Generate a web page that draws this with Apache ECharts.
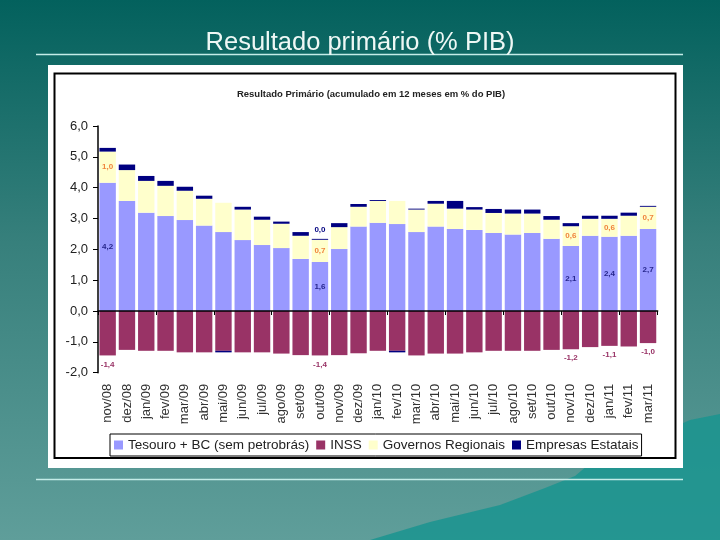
<!DOCTYPE html>
<html><head><meta charset="utf-8">
<script src="https://cdn.jsdelivr.net/npm/echarts@6/dist/echarts.min.js"></script>
<style>html,body{margin:0;padding:0;background:#0e6a66}#c{width:720px;height:540px}</style>
</head><body><div id="c"></div>
<script>
const categories = ['nov/08','dez/08','jan/09','fev/09','mar/09','abr/09','mai/09','jun/09','jul/09','ago/09','set/09','out/09','nov/09','dez/09','jan/10','fev/10','mar/10','abr/10','mai/10','jun/10','jul/10','ago/10','set/10','out/10','nov/10','dez/10','jan/11','fev/11','mar/11'];
const tesouro = [4.16,3.57,3.19,3.08,2.95,2.77,2.56,2.30,2.14,2.04,1.69,1.59,2.01,2.74,2.86,2.82,2.56,2.74,2.66,2.63,2.53,2.48,2.53,2.34,2.11,2.44,2.41,2.44,2.66];
const inss = [-1.44,-1.26,-1.29,-1.29,-1.34,-1.34,-1.29,-1.34,-1.34,-1.38,-1.43,-1.44,-1.43,-1.37,-1.29,-1.29,-1.44,-1.38,-1.38,-1.34,-1.29,-1.29,-1.29,-1.26,-1.24,-1.17,-1.13,-1.15,-1.04];
const governos = [1.01,1.00,1.03,0.98,0.95,0.87,0.95,0.99,0.82,0.79,0.75,0.72,0.71,0.64,0.71,0.75,0.73,0.74,0.66,0.66,0.65,0.68,0.63,0.62,0.64,0.55,0.58,0.65,0.72];
const estatais = [0.12,0.18,0.16,0.16,0.13,0.10,-0.05,0.09,0.10,0.07,0.12,0.03,0.13,0.09,0.03,-0.05,0.03,0.09,0.25,0.08,0.13,0.13,0.13,0.12,0.10,0.10,0.10,0.10,0.03];
const yTicks = [-2,-1,0,1,2,3,4,5,6];
const labeledMain = [0,11,24,26,28];
const labeledEstatais = [11];

const fmt = v => Number(v).toFixed(1).replace('.', ',');
function withLabels(arr, idxs, pos, color) {
  return arr.map((v, i) => idxs.includes(i)
    ? {value: v, label: {show: true, position: pos, color: color, fontSize: 8, fontWeight: 'bold', fontFamily: 'Liberation Sans, Arial', formatter: p => fmt(p.value)}}
    : v);
}

const chart = echarts.init(document.getElementById('c'), null, {renderer: 'canvas'});
const option = {
  animation: false,
  backgroundColor: {type: 'linear', x: 0, y: 0, x2: 0, y2: 1, colorStops: [
    {offset: 0, color: '#03615d'}, {offset: 0.45, color: '#37807c'}, {offset: 1, color: '#5f9e9a'}]},
  title: [
    {text: 'Resultado primário (% PIB)', left: 'center', top: 25,
     textStyle: {color: '#eef8f5', fontSize: 25.5, fontWeight: 'normal', fontFamily: 'Liberation Sans, Arial'}},
    {text: 'Resultado Primário (acumulado em 12 meses em % do PIB)', left: 366, textAlign: 'center', top: 84,
     textStyle: {color: '#222', fontSize: 9.5, fontWeight: 'bold', fontFamily: 'Liberation Sans, Arial'}}
  ],
  graphic: [
    {type: 'polygon', z: -20, silent: true, shape: {points: [[370,540],[430,522],[500,505],[545,488],[575,476],[600,455],[640,442],[690,420],[720,414],[720,540]]},
     style: {fill: '#1a948f', opacity: 0.85}},
    {type: 'rect', z: -10, silent: true, shape: {x: 48, y: 65, width: 635, height: 403}, style: {fill: '#ffffff'}},
    {type: 'rect', z: -9, silent: true, shape: {x: 54.5, y: 73.5, width: 621, height: 384.5}, style: {fill: null, stroke: '#000', lineWidth: 2}},
    {type: 'line', z: -9, silent: true, shape: {x1: 36, y1: 54.5, x2: 683, y2: 54.5}, style: {stroke: '#c4ece8', lineWidth: 1.5}},
    {type: 'line', z: -9, silent: true, shape: {x1: 36, y1: 479.5, x2: 683, y2: 479.5}, style: {stroke: '#c4ece8', lineWidth: 1.5}}
  ],
  legend: {
    left: 110, top: 434, itemWidth: 9, itemHeight: 9, itemGap: 7, icon: 'rect',
    padding: [4, 3, 4, 4], borderColor: '#000', borderWidth: 1, backgroundColor: '#fff',
    textStyle: {color: '#222', fontSize: 13.5, fontFamily: 'Liberation Sans, Arial'},
    data: ['Tesouro + BC (sem petrobrás)', 'INSS', 'Governos Regionais', 'Empresas Estatais']
  },
  grid: {left: 98, top: 126, width: 559.7, height: 246.7},
  xAxis: [
    {type: 'category', data: categories, position: 'bottom',
     axisLine: {show: false, onZero: false}, axisTick: {show: false},
     axisLabel: {rotate: 90, margin: 11, interval: 0, color: '#333', fontSize: 13, fontFamily: 'Liberation Sans, Arial'}},
    {type: 'category', data: categories, position: 'bottom', z: 10,
     axisLine: {show: true, onZero: true, lineStyle: {color: '#000', width: 1.5}},
     axisTick: {show: true, length: 4, lineStyle: {color: '#000'}}, axisLabel: {show: false}}
  ],
  yAxis: {type: 'value', min: yTicks[0], max: yTicks[yTicks.length - 1], interval: 1,
    axisLine: {show: true, lineStyle: {color: '#000', width: 1.5}},
    axisTick: {show: true, length: 5, lineStyle: {color: '#000'}},
    splitLine: {show: false},
    axisLabel: {margin: 10, color: '#222', fontSize: 13, fontFamily: 'Liberation Sans, Arial', formatter: v => fmt(v)}},
  series: [
    {name: 'Tesouro + BC (sem petrobrás)', type: 'bar', stack: 't', barCategoryGap: '15%', itemStyle: {color: '#9999ff'},
     data: withLabels(tesouro, labeledMain, 'inside', '#26268c')},
    {name: 'INSS', type: 'bar', stack: 't', itemStyle: {color: '#993366'},
     data: withLabels(inss, labeledMain, 'bottom', '#993366')},
    {name: 'Governos Regionais', type: 'bar', stack: 't', itemStyle: {color: '#ffffcc'},
     data: withLabels(governos, labeledMain, 'inside', '#f0843c')},
    {name: 'Empresas Estatais', type: 'bar', stack: 't', itemStyle: {color: '#000080'},
     data: withLabels(estatais, labeledEstatais, 'top', '#000080')}
  ]
};
chart.setOption(option);
</script></body></html>
